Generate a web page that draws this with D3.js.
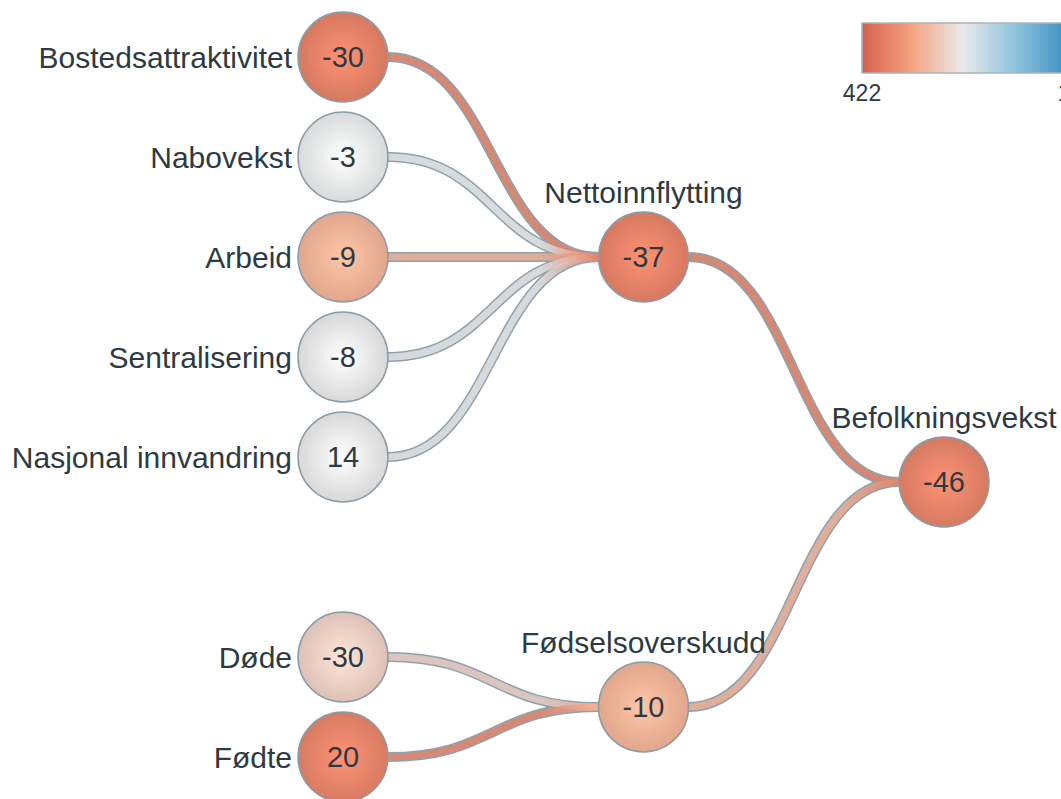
<!DOCTYPE html>
<html>
<head>
<meta charset="utf-8">
<script src="https://cdn.jsdelivr.net/npm/d3@7"></script>
<style>
    body { margin: 0; background: #fff; }
    svg { display: block; font-family: "Liberation Sans", Arial, sans-serif; }
</style>
</head>
<body>
<svg id="chart"></svg>
<script>
// Nodes of the tree (root first), their parent, shown value and rank (422 = worst, 1 = best)
const nodeIds = ["Befolkningsvekst", "Nettoinnflytting", "Fødselsoverskudd",
    "Bostedsattraktivitet", "Nabovekst", "Arbeid", "Sentralisering", "Nasjonal innvandring",
    "Døde", "Fødte"];
const parentIds = [null, "Befolkningsvekst", "Befolkningsvekst",
    "Nettoinnflytting", "Nettoinnflytting", "Nettoinnflytting", "Nettoinnflytting", "Nettoinnflytting",
    "Fødselsoverskudd", "Fødselsoverskudd"];
const nodeValues = [-46, -37, -10, -30, -3, -9, -8, 14, -30, 20];
const nodeRanks = [368, 370, 296, 370, 212, 296, 214, 214, 252, 366];

// Legend
const legendTicks = [422, 1];

const width = 1061;
const height = 799;
const radius = 45;

const svg = d3.select("#chart")
    .attr("width", width)
    .attr("height", height)
    .attr("viewBox", [0, 0, width, height]);

const defs = svg.append("defs");

// Diverging colour: red for bad rank, blue for good
const colorScale = d3.scaleLinear()
    .domain([422, 316, 211.5, 106, 1])
    .range(["#d6604d", "#f4a582", "#e8eaec", "#92c5de", "#4393c3"])
    .interpolate(d3.interpolateRgb);

const table = nodeIds.map((id, i) => ({
    id,
    parent: parentIds[i],
    value: nodeValues[i],
    rank: nodeRanks[i]
}));

const root = d3.stratify()
    .id(d => d.id)
    .parentId(d => d.parent)(table);

d3.cluster()
    .size([1, 1])
    .separation((a, b) => a.parent === b.parent ? 1 : 2)(root);

const leaves = root.leaves();
const yScale = d3.scaleLinear()
    .domain(d3.extent(leaves, d => d.x))
    .range([57, 757]);
const xScale = d3.scaleLinear()
    .domain([0, root.height])
    .range([944, 343]);

root.each(d => {
    d.px = xScale(d.depth);
    d.py = yScale(d.x);
    d.color = colorScale(d.data.rank);
});

// Circle gradients (lighter centre)
root.each(d => {
    const g = defs.append("radialGradient")
        .attr("id", "node-grad-" + d.depth + "-" + Math.round(d.py));
    g.append("stop").attr("offset", "0%").attr("stop-color", d3.color(d.color).brighter(0.3));
    g.append("stop").attr("offset", "100%").attr("stop-color", d3.color(d.color).darker(0.2));
});

// Links, from right edge of the child to left edge of the parent
const links = root.links().map(l => ({
    source: [l.target.px + radius, l.target.py],
    target: [l.source.px - radius, l.source.py],
    from: l.target.color,
    to: l.source.color,
    key: l.target.id
}));

const linkPath = d3.linkHorizontal();

// colour stays with the child for most of the way, then turns into the parent's colour
links.forEach((l, i) => {
    const g = defs.append("linearGradient")
        .attr("id", "link-grad-" + i)
        .attr("gradientUnits", "userSpaceOnUse")
        .attr("x1", l.source[0]).attr("y1", 0)
        .attr("x2", l.target[0]).attr("y2", 0);
    g.append("stop").attr("offset", "0%").attr("stop-color", l.from);
    g.append("stop").attr("offset", "72%").attr("stop-color", l.from);
    g.append("stop").attr("offset", "100%").attr("stop-color", l.to);
});

const linkG = svg.append("g").attr("fill", "none");

linkG.selectAll("path.outline")
    .data(links)
    .join("path")
        .classed("outline", true)
        .attr("d", linkPath)
        .attr("stroke", "#8fa1ac")
        .attr("stroke-width", 10);

linkG.selectAll("path.inner")
    .data(links)
    .join("path")
        .classed("inner", true)
        .attr("d", linkPath)
        .attr("stroke", (d, i) => `url(#link-grad-${i})`)
        .attr("stroke-opacity", 0.8)
        .attr("stroke-width", 7);

// Nodes
const node = svg.append("g")
    .selectAll("g.node")
    .data(root.descendants())
    .join("g")
        .classed("node", true)
        .attr("transform", d => `translate(${d.px}, ${d.py})`);

node.append("circle")
    .attr("r", radius)
    .attr("fill", d => `url(#node-grad-${d.depth}-${Math.round(d.py)})`)
    .attr("stroke", "#8c9ca6")
    .attr("stroke-width", 1.5);

node.append("text")
    .attr("text-anchor", "middle")
    .attr("dy", "0.36em")
    .attr("font-size", 29)
    .attr("fill", "#2e3a42")
    .text(d => d.data.value);

// Labels: leaves to the left, inner nodes above
node.append("text")
    .attr("font-size", 30)
    .attr("fill", "#2e3a42")
    .attr("text-anchor", d => d.children ? "middle" : "end")
    .attr("x", d => d.children ? 0 : -radius - 6)
    .attr("y", d => d.children ? -radius - 9 : 0)
    .attr("dy", d => d.children ? 0 : "0.36em")
    .text(d => d.id);

// Legend
const legendX = d3.scaleLinear()
    .domain([422, 1])
    .range([862, 1064]);

const lg = defs.append("linearGradient").attr("id", "legend-grad");
d3.range(0, 1.0001, 0.05).forEach(t => {
    lg.append("stop")
        .attr("offset", `${t * 100}%`)
        .attr("stop-color", colorScale(legendX.invert(862 + t * 202)));
});

const legend = svg.append("g");

legend.append("rect")
    .attr("x", legendX(422))
    .attr("y", 23)
    .attr("width", legendX(1) - legendX(422))
    .attr("height", 50)
    .attr("fill", "url(#legend-grad)")
    .attr("stroke", "#a9b5bb")
    .attr("stroke-width", 1.5);

legend.selectAll("text")
    .data(legendTicks)
    .join("text")
        .attr("x", d => legendX(d))
        .attr("y", 101)
        .attr("text-anchor", "middle")
        .attr("font-size", 23)
        .attr("fill", "#2e3a42")
        .text(d => d);
</script>
</body>
</html>
